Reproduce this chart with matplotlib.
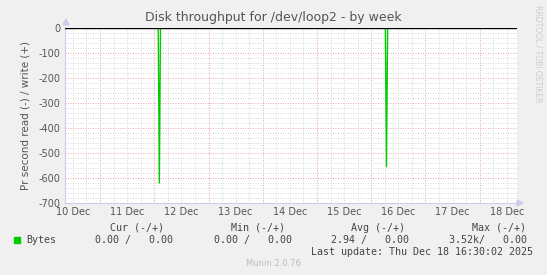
import datetime as dt
import matplotlib
matplotlib.use("Agg")
import matplotlib.pyplot as plt
import matplotlib.dates as mdates
from matplotlib.patches import Rectangle

# data (read shown negative, write positive)
times = ["2025-12-10 08:30", "2025-12-12 01:45", "2025-12-12 02:15", "2025-12-12 02:45",
         "2025-12-16 06:15", "2025-12-16 06:45", "2025-12-16 07:15", "2025-12-18 16:30"]
read_vals = [0, 0, -620, 0, 0, -555, 0, 0]
write_vals = [0, 0, 0, 0, 0, 0, 0, 0]

y_ticks = [0, -100, -200, -300, -400, -500, -600, -700]
legend_headers = ["Cur (-/+)", "Min (-/+)", "Avg (-/+)", "Max (-/+)"]
legend_values = ["0.00 /   0.00", "0.00 /   0.00", "2.94 /   0.00", "3.52k/   0.00"]
title = "Disk throughput for /dev/loop2 - by week"
last_update = "Last update: Thu Dec 18 16:30:02 2025"

W, H = 547, 275
t = [dt.datetime.strptime(s, "%Y-%m-%d %H:%M") for s in times]
t0, t1 = t[0], t[-1]

fig = plt.figure(figsize=(W / 100, H / 100), dpi=100, facecolor="#f0f0f0")
ax = fig.add_axes([65 / W, 1 - 203 / H, (517 - 65) / W, (203 - 28) / H])
ax.set_facecolor("white")

# grid: grey dotted every 6 h / 20 units, red dotted at midnights / 100 units
grey = dict(color="#d8d8d8", lw=0.72, ls=(0, (1, 1.5)), zorder=1)
red = dict(color="#eeaaaa", lw=0.72, ls=(0, (1, 1.5)), zorder=1)
day = dt.datetime(2025, 12, 10)
while day <= t1:
    for h in (6, 12, 18):
        x = day + dt.timedelta(hours=h)
        if t0 < x < t1:
            ax.axvline(x, **grey)
    if t0 < day < t1:
        ax.axvline(day, **red)
    day += dt.timedelta(days=1)
for v in range(-700, 1, 20):
    if v % 100:
        ax.axhline(v, **grey)
    elif v != 0:
        ax.axhline(v, **red)

ax.plot(t, read_vals, color="#00cc00", lw=1.0, zorder=3)
ax.plot(t, write_vals, color="black", lw=1.0, zorder=4)

ax.set_xlim(t0, t1)
ax.set_ylim(-700, 0)
ax.set_yticks(y_ticks)
ax.set_yticklabels([str(v) for v in y_ticks])
noons = [dt.datetime(2025, 12, d, 12) for d in range(10, 19)]
ax.set_xticks(noons)
ax.xaxis.set_major_formatter(mdates.DateFormatter("%d %b"))
ax.tick_params(length=0, labelsize=7, colors="#555555", pad=3)

for s in ("top", "right"):
    ax.spines[s].set_visible(False)
for s in ("left", "bottom"):
    ax.spines[s].set_color("#ccccee")
    ax.spines[s].set_linewidth(0.8)

# little axis arrows like rrdtool
fig.patches.append(plt.Polygon([[63 / W, 1 - 25 / H], [69 / W, 1 - 25 / H], [66 / W, 1 - 19 / H]],
                               closed=True, color="#ccccee", transform=fig.transFigure))
fig.patches.append(plt.Polygon([[517 / W, 1 - 200 / H], [517 / W, 1 - 206 / H], [523 / W, 1 - 203 / H]],
                               closed=True, color="#ccccee", transform=fig.transFigure))

ax.set_ylabel("Pr second read (-) / write (+)", fontsize=7.5, color="#555555", labelpad=6)

fig.text(273 / W, 1 - 18 / H, title, ha="center", va="center", fontsize=9, color="#555555")
fig.text(538 / W, 1 - 5 / H, "RRDTOOL / TOBI OETIKER", rotation=270, ha="center", va="top",
         fontsize=5.5, color="#cccccc")

mono = dict(family="DejaVu Sans Mono", fontsize=7.2, color="#444444", va="center")
header_x = [164, 285, 405, 526]
value_x = [173, 292, 409, 527]
for hx, hd in zip(header_x, legend_headers):
    fig.text(hx / W, 1 - 228 / H, hd, ha="right", **mono)
for vx, vv in zip(value_x, legend_values):
    fig.text(vx / W, 1 - 240 / H, vv, ha="right", **mono)
fig.patches.append(Rectangle((14 / W, 1 - 243 / H), 6 / W, 6 / H, color="#00cc00",
                             transform=fig.transFigure))
fig.text(26 / W, 1 - 240 / H, "Bytes", ha="left", **mono)
fig.text(533 / W, 1 - 252 / H, last_update, ha="right", **mono)
fig.text(273 / W, 1 - 264 / H, "Munin 2.0.76", ha="center", va="center", fontsize=6,
         color="#bbbbbb")

fig.savefig("out.png", dpi=100, facecolor=fig.get_facecolor())
